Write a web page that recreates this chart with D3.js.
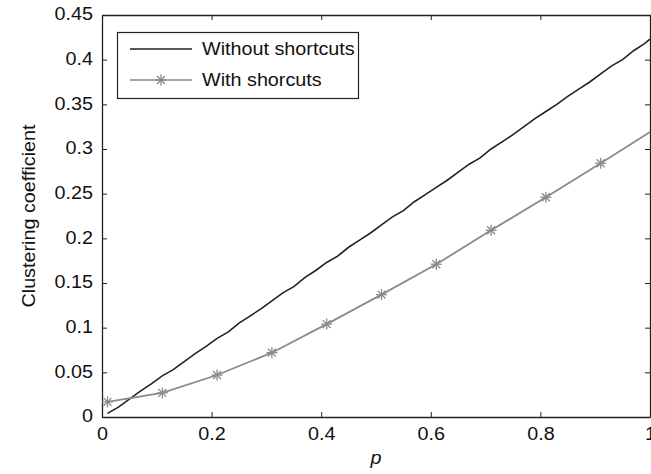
<!DOCTYPE html>
<html>
<head>
<meta charset="utf-8">
<script src="https://cdn.jsdelivr.net/npm/d3@7"></script>
<style>
  html, body { margin: 0; padding: 0; background: #fff; }
  svg { display: block; }
  text { font-family: "Liberation Sans", Arial, Helvetica, sans-serif; fill: #111; }
</style>
</head>
<body>
<svg id="chart" width="651" height="474"></svg>
<script>
// Clustering coefficient vs. rewiring probability p
const pPlain = [0.01,0.03,0.05,0.07,0.09,0.11,0.13,0.15,0.17,0.19,0.21,0.23,0.25,0.27,0.29,0.31,0.33,0.35,0.37,0.39,0.41,0.43,0.45,0.47,0.49,0.51,0.53,0.55,0.57,0.59,0.61,0.63,0.65,0.67,0.69,0.71,0.73,0.75,0.77,0.79,0.81,0.83,0.85,0.87,0.89,0.91,0.93,0.95,0.97,0.99,1.00];
const withoutShortcuts = [0.004,0.011,0.020,0.029,0.037,0.046,0.053,0.062,0.071,0.079,0.088,0.095,0.105,0.113,0.121,0.130,0.139,0.146,0.156,0.164,0.173,0.180,0.190,0.198,0.206,0.215,0.224,0.231,0.241,0.249,0.257,0.265,0.274,0.283,0.290,0.300,0.308,0.316,0.325,0.334,0.342,0.350,0.359,0.367,0.375,0.384,0.393,0.400,0.410,0.418,0.423];

const pShort = [0.01,0.11,0.21,0.31,0.41,0.51,0.61,0.71,0.81,0.91,1.00];
const withShortcuts = [0.017,0.027,0.047,0.072,0.104,0.137,0.171,0.209,0.246,0.284,0.319];
const markerCount = 10; // stars on the first ten samples

const xTicks = [0,0.2,0.4,0.6,0.8,1];
const yTicks = [0,0.05,0.1,0.15,0.2,0.25,0.3,0.35,0.4,0.45];
const legendLabels = ["Without shortcuts","With shorcuts"];

const svg = d3.select("#chart");
const L = 102, R = 650, T = 15, B = 417;
const x = d3.scaleLinear().domain([0,1]).range([L,R]);
const y = d3.scaleLinear().domain([0,0.45]).range([B,T]);

const axisColor = "#222";
const fs = 17.5;
const sx = 1.13; // slightly wide lettering

// axes with inward ticks on all four sides
const gx = svg.append("g").attr("transform",`translate(0,${B})`)
  .call(d3.axisBottom(x).tickValues(xTicks).tickSizeInner(-5).tickSizeOuter(0).tickPadding(11).tickFormat(d3.format("~g")));
const gy = svg.append("g").attr("transform",`translate(${L},0)`)
  .call(d3.axisLeft(y).tickValues(yTicks).tickSizeInner(-5).tickSizeOuter(0).tickPadding(9).tickFormat(d3.format("~g")));
const gxt = svg.append("g").attr("transform",`translate(0,${T})`)
  .call(d3.axisTop(x).tickValues(xTicks).tickSizeInner(-5).tickSizeOuter(0).tickFormat(""));
const gyr = svg.append("g").attr("transform",`translate(${R},0)`)
  .call(d3.axisRight(y).tickValues(yTicks).tickSizeInner(-5).tickSizeOuter(0).tickFormat(""));
[gx,gy,gxt,gyr].forEach(g => {
  g.select(".domain").attr("stroke",axisColor).attr("stroke-width",1.3);
  g.selectAll(".tick line").attr("stroke",axisColor).attr("stroke-width",1);
});
gx.selectAll(".tick text").attr("font-size",fs).attr("fill","#111")
  .attr("transform",`scale(${sx},1)`);
gy.selectAll(".tick text").attr("font-size",fs).attr("fill","#111").attr("dy","0.28em")
  .attr("transform",function(){
    const xx = +d3.select(this).attr("x");
    return `translate(${xx},0) scale(${sx},1) translate(${-xx},0)`;
  });

// series lines
const line = d3.line().x(d=>x(d[0])).y(d=>y(d[1]));
svg.append("path").datum(pPlain.map((p,i)=>[p,withoutShortcuts[i]]))
  .attr("d",line).attr("fill","none").attr("stroke","#222").attr("stroke-width",1.6);
svg.append("path").datum(pShort.map((p,i)=>[p,withShortcuts[i]]))
  .attr("d",line).attr("fill","none").attr("stroke","#8a8a8a").attr("stroke-width",1.8);

function star(g, cx, cy){
  const r = 5.5;
  const s = g.append("g").attr("transform",`translate(${cx},${cy})`)
    .attr("stroke","#8a8a8a").attr("stroke-width",1.3);
  s.append("line").attr("x1",-r).attr("x2",r).attr("y1",0).attr("y2",0);
  s.append("line").attr("x1",0).attr("x2",0).attr("y1",-r).attr("y2",r);
  const d = r*0.72;
  s.append("line").attr("x1",-d).attr("x2",d).attr("y1",-d).attr("y2",d);
  s.append("line").attr("x1",-d).attr("x2",d).attr("y1",d).attr("y2",-d);
}
const mk = svg.append("g");
pShort.slice(0,markerCount).forEach((p,i)=>star(mk, x(p), y(withShortcuts[i])));

// legend
const lg = svg.append("g");
lg.append("rect").attr("x",117.5).attr("y",32.5).attr("width",241).attr("height",66)
  .attr("fill","#fff").attr("stroke","#222").attr("stroke-width",1.2);
const rowsY = [49,80];
lg.append("line").attr("x1",130).attr("x2",192).attr("y1",rowsY[0]).attr("y2",rowsY[0]).attr("stroke","#222").attr("stroke-width",1.4);
lg.append("line").attr("x1",130).attr("x2",192).attr("y1",rowsY[1]).attr("y2",rowsY[1]).attr("stroke","#8a8a8a").attr("stroke-width",1.6);
star(lg,161,rowsY[1]);
legendLabels.forEach((t,i)=>{
  lg.append("text").attr("x",0).attr("y",0).attr("dy","0.35em").attr("font-size",fs)
    .attr("transform",`translate(202,${rowsY[i]}) scale(${sx},1)`).text(t);
});

// axis titles
svg.append("text").attr("font-size",fs).attr("text-anchor","middle")
  .attr("transform",`translate(29,216) rotate(-90) scale(${sx},1)`).attr("dy","0.35em").text("Clustering coefficient");
svg.append("text").attr("font-size",fs).attr("font-style","italic").attr("text-anchor","middle")
  .attr("transform",`translate(376,458) scale(${sx},1)`).attr("dy","0.35em").text("p");
</script>
</body>
</html>
